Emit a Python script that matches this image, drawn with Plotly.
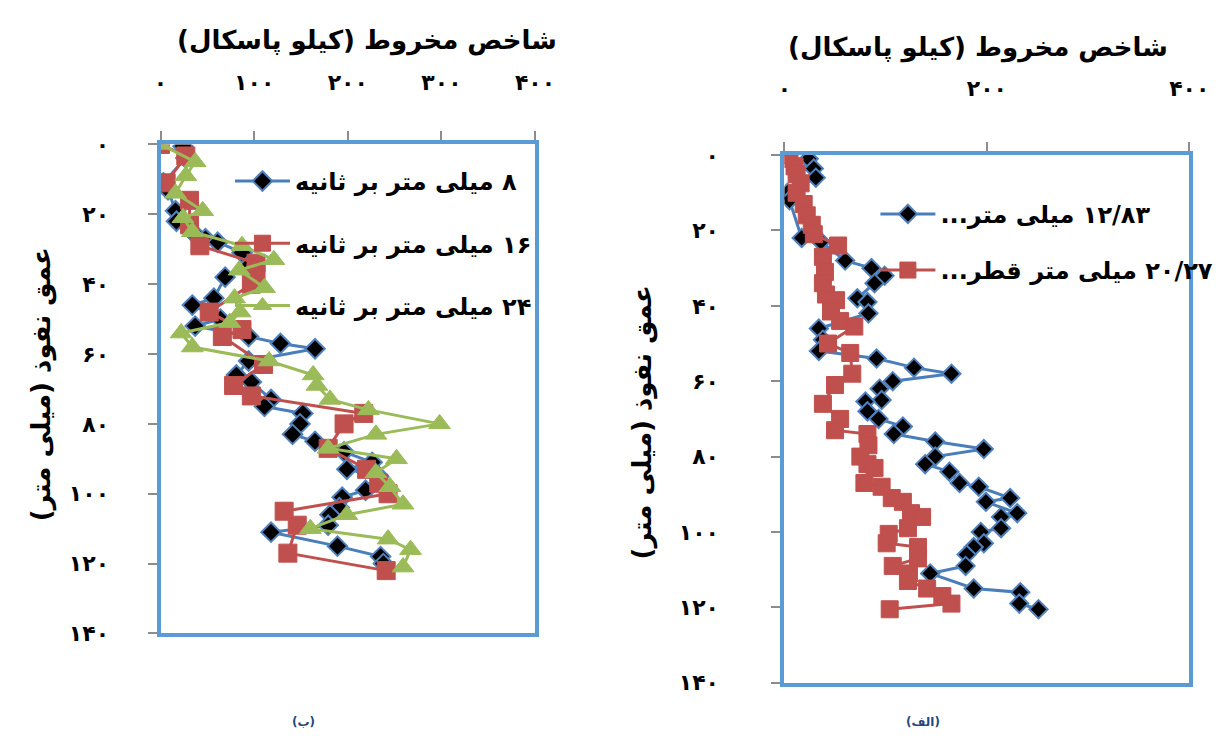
import plotly.graph_objects as go

RLM = "\u200f"

def rtl(s):
    return RLM + s + RLM

# ---------------- Chart (ب) : penetration rate series ----------------
cone_b_8 = [24, 27, 3, 8, 16, 17, 34, 48, 61, 87, 93, 69, 57, 34, 64, 37, 94, 128, 165, 94,
            81, 97, 118, 111, 152, 149, 141, 165, 196, 226, 199, 233, 219, 194, 191, 181,
            179, 118, 189, 235, 238]
depth_b_8 = [0.5, 3.9, 11, 13, 19, 22, 25, 27, 28, 31, 35, 38, 44, 46, 50, 52, 55, 57, 58.5, 62,
             66, 68, 73, 75, 77, 80, 83, 85, 88, 91, 93, 95, 99, 101, 104, 106,
             109, 111, 115, 118, 120]

cone_b_16 = [0, 27, 6, 31, 31, 42, 102, 102, 97, 52, 87, 66, 110, 78, 97, 217, 196, 179, 220,
             233, 243, 132, 146, 136, 241]
depth_b_16 = [0, 3.3, 11, 16, 23, 29, 34, 37, 40, 48, 53, 55, 63, 69, 72, 77, 80, 87, 93,
              97, 100, 105, 109, 117, 122]

cone_b_24 = [0, 37, 27, 16, 45, 24, 34, 87, 121, 84, 111, 79, 85, 74, 22, 34, 116, 163, 167,
             181, 222, 298, 230, 179, 252, 230, 245, 259, 199, 160, 243, 267, 259]
depth_b_24 = [0, 5, 9, 14, 19, 21, 25, 29, 33, 36, 41, 44, 48, 51, 54, 58, 62, 66, 69,
              73, 76, 80, 83, 87, 90, 94, 98, 103, 106, 110, 113, 116, 121]

names_b = ["۸ میلی متر بر ثانیه", "۱۶ میلی متر بر ثانیه", "۲۴ میلی متر بر ثانیه"]

# ---------------- Chart (الف) : cone diameter series ----------------
cone_a_1283 = [24, 29, 31, 3, 5, 17, 36, 60, 86, 99, 89, 72, 82, 83, 34, 38, 34, 91, 128, 165,
               107, 94, 96, 80, 82, 93, 117, 108, 149, 197, 149, 139, 163, 173, 192, 223, 199,
               230, 214, 214, 194, 197, 187, 180, 179, 144, 187, 233, 232, 251]
depth_a_1283 = [1, 3.6, 6, 10, 12, 22, 23, 28, 30, 32, 34, 38, 39, 42, 46, 49, 52, 54, 56.4, 58,
                60, 62, 65, 65.4, 68, 70, 72, 74, 76, 78, 80, 82, 84, 87, 88, 91, 92,
                95, 96, 99, 100, 103, 104, 106, 109, 111, 115, 116, 119, 120.5]

cone_a_2027 = [0, 5, 10, 12, 16, 12, 19, 22, 27, 29, 53, 38, 40, 38, 41, 51, 46, 55, 69, 43,
               65, 67, 50, 38, 55, 50, 82, 83, 75, 82, 89, 79, 96, 106, 117, 125, 136, 122,
               103, 101, 132, 132, 107, 123, 122, 141, 156, 165, 104]
depth_a_2027 = [0, 1, 3, 5, 7.5, 10, 13, 16, 18.5, 21, 24, 27, 31, 34, 37, 38.5, 41.5, 44, 45.5, 50,
                52.5, 58, 61, 66, 70, 73, 74, 77, 80, 82, 83, 87, 88, 91, 92, 95, 96, 99,
                100.5, 103, 104, 107, 109, 111, 113, 115, 117, 119, 120.5]

names_a = ["۱۲/۸۳ میلی متر...", "۲۰/۲۷ میلی متر قطر..."]

# ---------------- axis labels ----------------
x_title = "شاخص مخروط (کیلو پاسکال)"
y_title = "عمق نفوذ (میلی متر)"
depth_ticks = [0, 20, 40, 60, 80, 100, 120, 140]
depth_ticktext = ["۰", "۲۰", "۴۰", "۶۰", "۸۰", "۱۰۰", "۱۲۰", "۱۴۰"]
cone_ticks_b = [0, 100, 200, 300, 400]
cone_ticktext_b = ["۰", "۱۰۰", "۲۰۰", "۳۰۰", "۴۰۰"]
cone_ticks_a = [0, 200, 400]
cone_ticktext_a = ["۰", "۲۰۰", "۴۰۰"]
panel_labels = ["(ب)", "(الف)"]

FONT = "DejaVu Sans"
BLUE_LINE = "#4A7EBB"
BLUE_EDGE = "#4F81BD"
RED = "#C0504D"
GREEN = "#9BBB59"
FRAME = "#5B9BD5"

# figure fills the whole window; positions given as fractions of a 1223x747 frame
W, H = 1223, 747

def px_x(p):
    return p / W

def px_y(p):
    return 1 - p / H

fig = go.Figure()

styles_b = [
    dict(line=dict(color=BLUE_LINE, width=3),
         marker=dict(symbol="diamond", size=15, color="black", line=dict(color=BLUE_EDGE, width=2))),
    dict(line=dict(color=RED, width=3),
         marker=dict(symbol="square", size=18, color=RED, line=dict(color=RED, width=1))),
    dict(line=dict(color=GREEN, width=3),
         marker=dict(symbol="triangle-up", size=19, color=GREEN, line=dict(color=GREEN, width=1))),
]
data_b = [(cone_b_8, depth_b_8), (cone_b_16, depth_b_16), (cone_b_24, depth_b_24)]
for i, ((xs, ys), nm, st) in enumerate(zip(data_b, names_b, styles_b)):
    fig.add_trace(go.Scatter(x=xs, y=ys, mode="lines+markers", name=rtl(nm),
                             xaxis="x", yaxis="y", legend="legend",
                             legendgroup=f"b{i}", **st))

styles_a = [
    dict(line=dict(color=BLUE_LINE, width=3),
         marker=dict(symbol="diamond", size=14, color="black", line=dict(color=BLUE_EDGE, width=2))),
    dict(line=dict(color=RED, width=3),
         marker=dict(symbol="square", size=17, color=RED, line=dict(color=RED, width=1))),
]
data_a = [(cone_a_1283, depth_a_1283), (cone_a_2027, depth_a_2027)]
for i, ((xs, ys), nm, st) in enumerate(zip(data_a, names_a, styles_a)):
    fig.add_trace(go.Scatter(x=xs, y=ys, mode="lines+markers", name=rtl(nm),
                             xaxis="x2", yaxis="y2", legend="legend2",
                             legendgroup=f"a{i}", **st))

tickfont = dict(family=FONT, size=22, color="black", weight="bold")
common = dict(showline=True, linecolor=FRAME, linewidth=4, mirror=True,
              ticks="outside", tickcolor="#8C8C8C", ticklen=9, tickwidth=2,
              showgrid=False, zeroline=False, tickfont=tickfont)

fig.update_layout(
    autosize=True,
    margin=dict(l=0, r=0, t=0, b=0),
    paper_bgcolor="white", plot_bgcolor="white",
    xaxis=dict(domain=[px_x(157), px_x(540)], range=[0, 400], side="top", anchor="y",
               tickvals=cone_ticks_b, ticktext=cone_ticktext_b, ticklabelstandoff=33, **common),
    yaxis=dict(domain=[px_y(643), px_y(137)], range=[140, 0], anchor="x",
               tickvals=depth_ticks, ticktext=depth_ticktext, ticklabelstandoff=34, **common),
    xaxis2=dict(domain=[px_x(795), px_x(1209)], range=[0, 400], side="top", anchor="y2",
                tickvals=cone_ticks_a, ticktext=cone_ticktext_a, ticklabelstandoff=37, **common),
    yaxis2=dict(domain=[px_y(694), px_y(148)], range=[140, 0], anchor="x2",
                tickvals=depth_ticks, ticktext=depth_ticktext, ticklabelstandoff=48, **common),
    legend=dict(x=px_x(228), y=px_y(152), xanchor="left", yanchor="top",
                bgcolor="rgba(0,0,0,0)", itemwidth=55, traceorder="grouped", tracegroupgap=28,
                font=dict(family=FONT, size=24, color="black", weight="bold")),
    legend2=dict(x=px_x(888), y=px_y(186), xanchor="left", yanchor="top",
                 bgcolor="rgba(0,0,0,0)", itemwidth=55, traceorder="grouped", tracegroupgap=22,
                 font=dict(family=FONT, size=24, color="black", weight="bold")),
    showlegend=True,
)

title_font = dict(family=FONT, size=26, color="black", weight="bold")
ann = [
    dict(text=rtl(x_title), x=px_x(368), y=px_y(30), font=title_font),
    dict(text=rtl(x_title), x=px_x(993), y=px_y(37), font=title_font),
    dict(text=rtl(y_title), x=px_x(35), y=px_y(385), font=title_font, textangle=-90),
    dict(text=rtl(y_title), x=px_x(650), y=px_y(425), font=title_font, textangle=-90),
    dict(text=rtl(panel_labels[0]), x=px_x(303), y=px_y(735),
         font=dict(family=FONT, size=12, color="#1F497D", weight="bold")),
    dict(text=rtl(panel_labels[1]), x=px_x(937), y=px_y(735),
         font=dict(family=FONT, size=12, color="#1F497D", weight="bold")),
]
for a in ann:
    fig.add_annotation(xref="paper", yref="paper", showarrow=False,
                       xanchor="center", yanchor="middle", **a)

post = ("document.documentElement.style.margin='0';"
        "document.documentElement.style.height='100%';"
        "document.body.style.margin='0';"
        "document.body.style.height='100%';"
        "document.body.style.overflow='hidden';"
        "var gd=document.getElementById('{plot_id}');"
        "Plotly.Plots.resize(gd);")

fig.write_html("out.html", config={"displayModeBar": False, "responsive": True},
               default_width="100vw", default_height="100vh", post_script=post)
